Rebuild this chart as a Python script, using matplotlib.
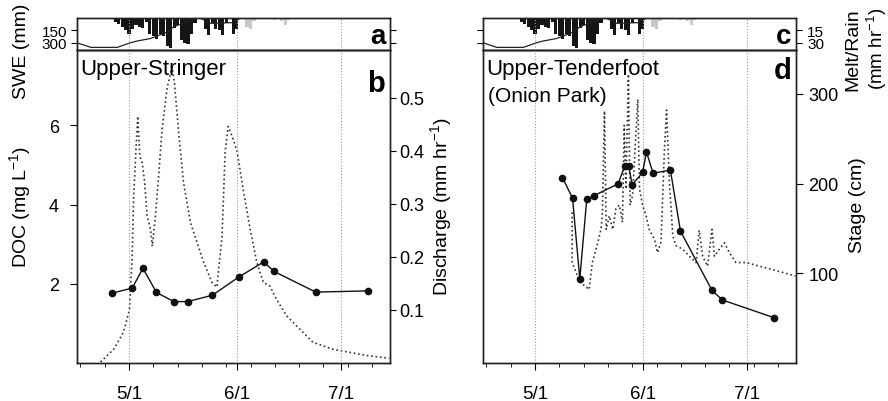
import numpy as np
import matplotlib.pyplot as plt
import matplotlib.dates as mdates
from matplotlib.ticker import FixedLocator, NullLocator

plt.rcParams['font.family'] = ['Liberation Sans', 'DejaVu Sans']
plt.rcParams['mathtext.fontset'] = 'custom'
plt.rcParams['mathtext.rm'] = 'Liberation Sans'

# all days are counted from May 1
melt_day = list(range(-4, 33))
melt = [5, 7, 11, 15, 19, 13, 9, 11, 12, 5, 20, 22, 26, 19, 22, 34, 36, 12, 9, 27,
        31, 32, 19, 6, 0, 0, 13, 21, 6, 13, 15, 21, 6, 0, 19, 13, 0]
rain_day = [34, 35, 36, 42, 44, 45, 46, 52]
rain = [11, 14, 4, 2, 4, 9, 3, 1]

swe_day = [-15, -11, -3.4, 0.4, 2.4, 6.2, 11, 12.9, 16.7, 18.6, 20.5, 21.5, 23.4, 30.5, 32]
swe = [302, 358, 358, 302, 280, 250, 172, 108, 43, 9, 2, 22, 65, 55, 0]

# Upper-Stringer discharge (mm/hr) and DOC (mg/L)
q_day = [-8.2, -4.4, -1.6, 0.1, 0.9, 1.3, 1.9, 2.5, 3.1, 3.8, 4.5, 5.2, 6.2, 6.7, 7.6,
         8.6, 9.5, 11.0, 12.4, 13.1, 14.3, 15.7, 17.7, 19.6, 21.5, 23.9, 25.3, 26.8,
         27.7, 28.6, 30.1, 31.1, 32.9, 34.9, 36.8, 38.7, 40.6, 42.5, 45.4, 47.2, 53.0,
         58.7, 68.5, 75.0]
q = [0.002, 0.026, 0.058, 0.10, 0.20, 0.31, 0.39, 0.465, 0.39, 0.377, 0.34, 0.277,
     0.252, 0.22, 0.277, 0.358, 0.44, 0.52, 0.558, 0.527, 0.434, 0.34, 0.265, 0.227,
     0.19, 0.152, 0.143, 0.239, 0.40, 0.446, 0.42, 0.40, 0.327, 0.252, 0.19, 0.152,
     0.145, 0.12, 0.089, 0.077, 0.039, 0.026, 0.014, 0.009]
doc_s_day = [-5.0, 0.9, 4.0, 7.9, 12.9, 16.9, 24.0, 31.8, 38.8, 41.8, 53.8, 68.8]
doc_s = [1.76, 1.89, 2.39, 1.78, 1.55, 1.55, 1.71, 2.18, 2.55, 2.31, 1.79, 1.82]

# Upper-Tenderfoot stage (cm) and DOC (mg/L)
stage_day = [10.7, 10.7, 13.0, 15.6, 16.5, 17.6, 19.0, 19.4, 20.0, 20.5, 21.4, 22.4,
             23.3, 24.3, 25.2, 25.7, 26.2, 26.9, 27.4, 28.1, 29.6, 30.1, 31.0, 32.0,
             32.9, 34.4, 35.3, 36.3, 37.3, 37.9, 38.7, 39.7, 40.6, 42.5, 44.5, 46.4,
             47.3, 48.3, 49.7, 51.0, 51.7, 53.1, 54.6, 56.0, 57.9, 60.8, 64.6, 69.5, 75.0]
stage = [168, 112, 90, 82, 112, 127, 149, 164, 281, 149, 164, 149, 172, 176, 157, 265,
         194, 322, 176, 187, 294, 194, 176, 164, 149, 138, 123, 135, 239, 282, 202, 142,
         131, 127, 119, 112, 148, 119, 108, 149, 119, 127, 134, 123, 112, 112, 108, 103, 97]
doc_t_day = [7.9, 10.8, 12.9, 14.9, 16.9, 23.9, 25.9, 27.0, 28.0, 31.0, 32.1, 34.0,
             39.0, 41.9, 51.0, 54.0, 69.0]
doc_t = [4.68, 4.16, 2.12, 4.14, 4.22, 4.52, 4.98, 4.96, 4.50, 4.81, 5.33, 4.79,
         4.87, 3.33, 1.83, 1.59, 1.14]

month_day = [0, 31, 61]
month_lab = ['5/1', '6/1', '7/1']

base = mdates.date2num(np.datetime64('2000-05-01'))


def t(days):
    return base + np.asarray(days, dtype=float)


W, H = 888, 402
fig = plt.figure(figsize=(W / 100, H / 100), dpi=100)


def box(x0, y0, w, h):
    return [x0 / W, 1 - (y0 + h) / H, w / W, h / H]


def style(ax):
    for s in ax.spines.values():
        s.set_linewidth(1.0)
        s.set_color('#222222')


for col, x0 in enumerate([77, 483]):
    axt = fig.add_axes(box(x0, 19, 313, 32))
    axr = axt.twinx()
    axm = fig.add_axes(box(x0, 51, 313, 313))
    axm2 = axm.twinx()
    for ax in (axt, axr, axm, axm2):
        style(ax)
        ax.set_xlim(t(-15), t(75.2))

    # top panel: melt/rain bars hanging from the top, SWE line
    axr.bar(t(melt_day), melt, width=0.9, color='#151515')
    axr.bar(t(rain_day), rain, width=0.9, color='#c8c8c8')
    axr.set_ylim(39, 0)
    axr.set_yticks([15, 30])
    axt.set_zorder(axr.get_zorder() + 1)
    axt.patch.set_visible(False)
    axt.plot(t(swe_day), swe, color='#222222', lw=0.9)
    axt.set_ylim(390, 0)
    axt.set_yticks([150, 300])
    axt.set_xticks([])
    for d in month_day:
        axt.axvline(t(d), color='#999999', ls=':', lw=0.8)

    axt.tick_params(axis='y', length=4, pad=3, labelsize=11)
    axr.tick_params(axis='y', length=4, pad=4, labelsize=11)
    if col == 0:
        axr.tick_params(axis='y', labelright=False)
    else:
        axt.tick_params(axis='y', labelleft=False)

    # main panel
    axm.set_zorder(axm2.get_zorder() + 1)
    axm.patch.set_visible(False)
    axm.set_ylim(0, 7.9)
    for d in month_day:
        axm.axvline(t(d), color='#999999', ls=':', lw=0.8, zorder=0)

    if col == 0:
        axm2.plot(t(q_day), q, ls=':', color='#333333', lw=1.2)
        axm2.set_ylim(0, 0.59)
        axm2.set_yticks([0.1, 0.2, 0.3, 0.4, 0.5])
        axm2.tick_params(axis='y', length=4, pad=3, labelsize=13)
        axm.plot(t(doc_s_day), doc_s, '-o', color='#111111', ms=4.5, lw=1.0)
        axm.set_yticks([2, 4, 6])
        axm.tick_params(axis='y', length=5, pad=8, labelsize=13)
    else:
        axm2.plot(t(stage_day), stage, ls=':', color='#333333', lw=1.2)
        axm2.set_ylim(0, 349)
        axm2.set_yticks([100, 200, 300])
        axm2.tick_params(axis='y', length=5, pad=4, labelsize=13)
        axm.plot(t(doc_t_day), doc_t, '-o', color='#111111', ms=4.5, lw=1.0)
        axm.yaxis.set_major_locator(NullLocator())

    axm.xaxis.set_major_locator(FixedLocator(t(month_day)))
    axm.xaxis.set_ticklabels(month_lab)
    axm.xaxis.set_minor_locator(FixedLocator(t(np.arange(-14, 76, 7))))
    axm.tick_params(axis='x', which='major', length=5, pad=11, labelsize=13.5)
    axm.tick_params(axis='x', which='minor', length=3)

    lab_top, lab_main = ('a', 'b') if col == 0 else ('c', 'd')
    axt.text(0.985, 0.45, lab_top, transform=axt.transAxes, ha='right', va='center',
             fontsize=20, fontweight='bold')

    if col == 0:
        axm.text(0.985, 0.94, lab_main, transform=axm.transAxes, ha='right', va='top',
                 fontsize=21, fontweight='bold')
        axm.text(0.01, 0.975, 'Upper-Stringer', transform=axm.transAxes,
                 ha='left', va='top', fontsize=16)
    else:
        axm.text(0.985, 0.98, lab_main, transform=axm.transAxes, ha='right', va='top',
                 fontsize=21, fontweight='bold')
        axm.text(0.01, 0.975, 'Upper-Tenderfoot', transform=axm.transAxes,
                 ha='left', va='top', fontsize=16)
        axm.text(0.015, 0.885, '(Onion Park)', transform=axm.transAxes,
                 ha='left', va='top', fontsize=15)

fig.text(21 / W, 1 - 51 / H, 'SWE (mm)', rotation=90, ha='center', va='center', fontsize=14)
fig.text(21 / W, 1 - 207 / H, 'DOC (mg L$^{-1}$)', rotation=90, ha='center',
         va='center', fontsize=14)
fig.text(442 / W, 1 - 207 / H, 'Discharge (mm hr$^{-1}$)', rotation=90, ha='center',
         va='center', fontsize=14)
fig.text(857 / W, 1 - 205 / H, 'Stage (cm)', rotation=90, ha='center', va='center',
         fontsize=14)
fig.text(853 / W, 1 - 8 / H, 'Melt/Rain', rotation=90, ha='center', va='top',
         fontsize=14)
fig.text(877 / W, 1 - 8 / H, '(mm hr$^{-1}$)', rotation=90, ha='center', va='top',
         fontsize=13.5)

fig.savefig('out.png', dpi=100)
